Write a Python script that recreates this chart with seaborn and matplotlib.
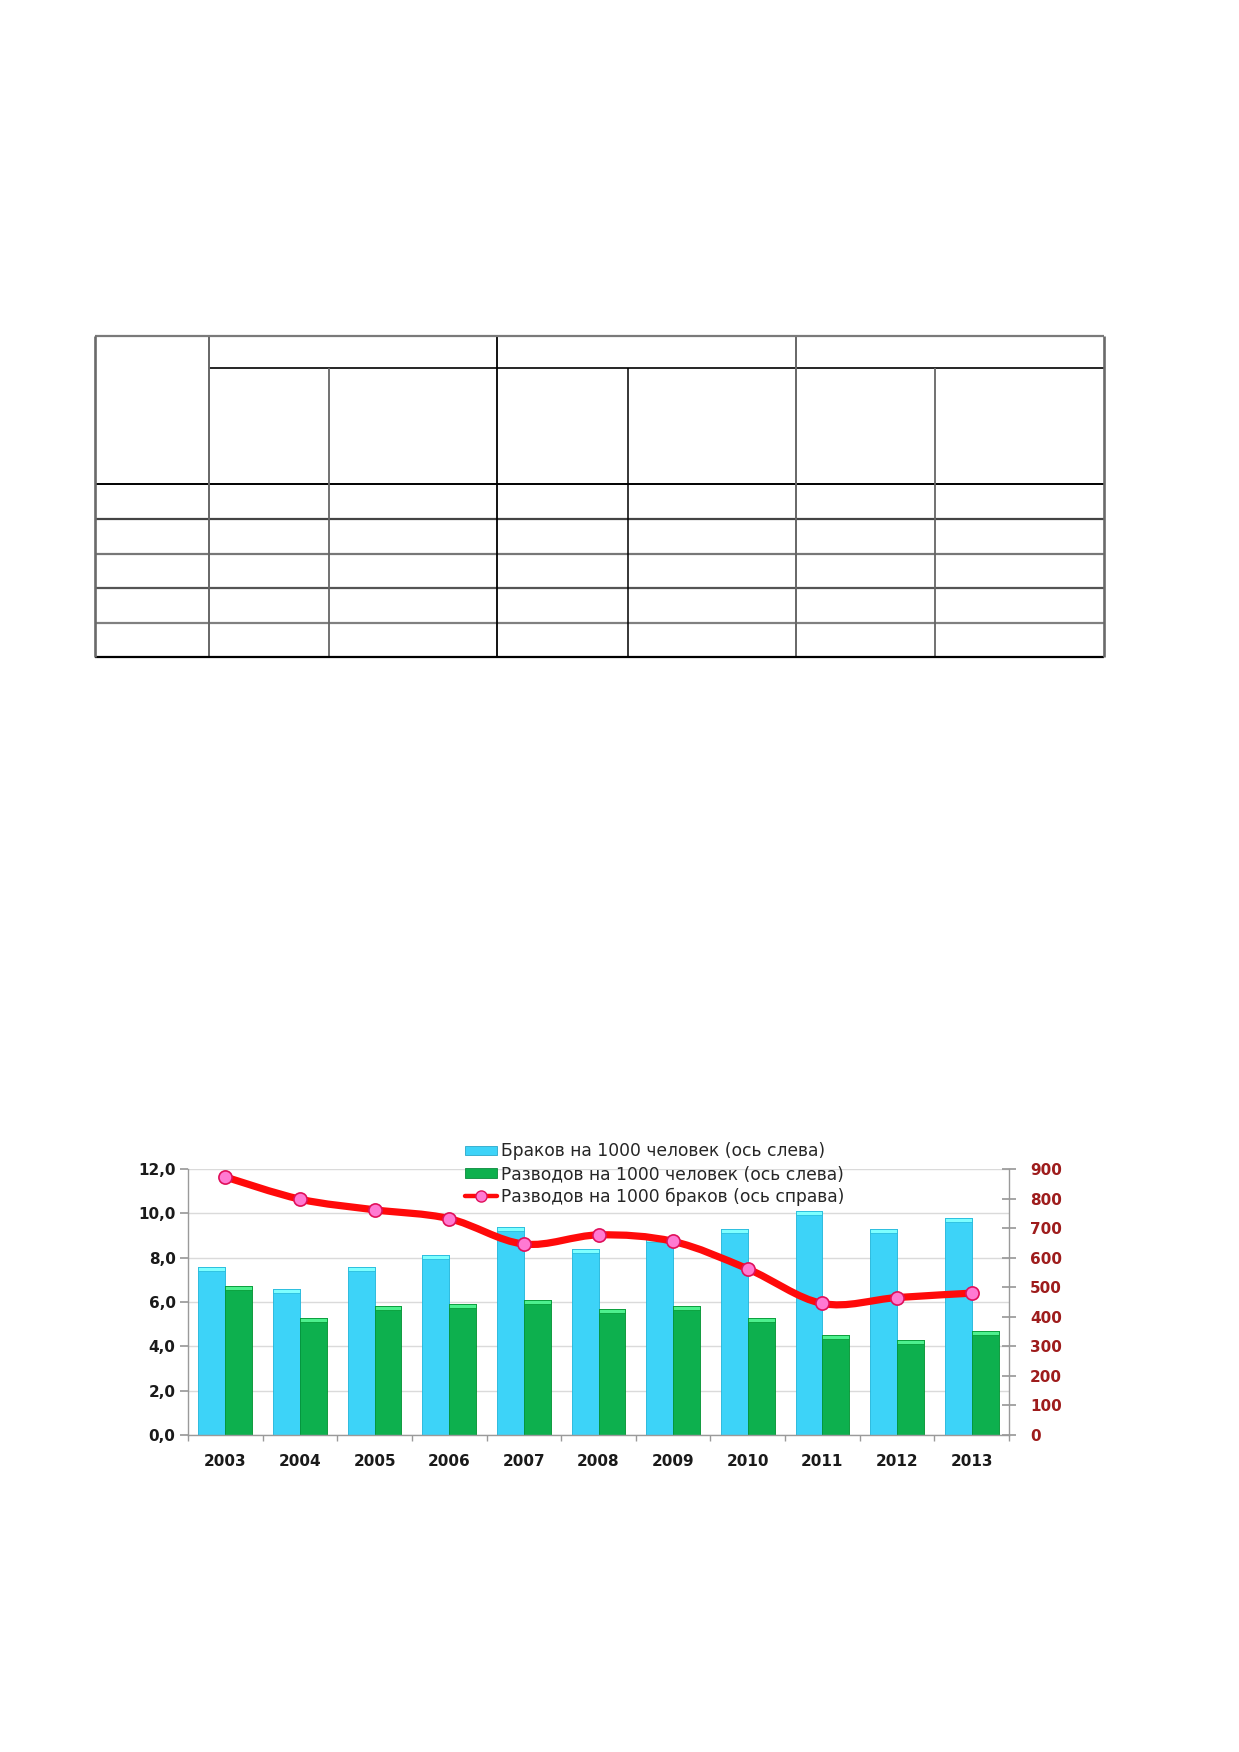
import matplotlib
matplotlib.use("Agg")
import matplotlib.pyplot as plt
import seaborn as sns
import pandas as pd
import numpy as np
from matplotlib.path import Path
from matplotlib.patches import PathPatch, Rectangle
from matplotlib.lines import Line2D

# данные
years = ["2003", "2004", "2005", "2006", "2007", "2008", "2009", "2010", "2011", "2012", "2013"]
marriages_per_1000 = [7.6, 6.6, 7.6, 8.1, 9.4, 8.4, 8.9, 9.3, 10.1, 9.3, 9.8]
divorces_per_1000 = [6.7, 5.3, 5.8, 5.9, 6.1, 5.7, 5.8, 5.3, 4.5, 4.3, 4.7]
divorces_per_1000_marriages = [873, 798, 762, 732, 646, 677, 655, 562, 445, 465, 480]

series_names = ["Браков на 1000 человек (ось слева)",
                "Разводов на 1000 человек (ось слева)",
                "Разводов на 1000 браков (ось справа)"]
left_ticks = [0, 2, 4, 6, 8, 10, 12]
right_ticks = [0, 100, 200, 300, 400, 500, 600, 700, 800, 900]

BLUE = "#3DD3F8"
GREEN = "#0DB04E"
RED = "#FF0A0A"
PINK = "#FF7AD2"
DARKRED = "#9E1C1C"
AXGRAY = "#9A9A9A"

sns.set_theme(style="white")
plt.rcParams["font.family"] = ["DejaVu Sans"]

W, H = 1239, 1752
fig = plt.figure(figsize=(W / 100, H / 100), dpi=100)
fig.patch.set_facecolor("white")

# ---- пустая таблица вверху страницы ----
col_edges = [95, 209, 329, 497, 628, 796, 935, 1104]
row_edges = [336, 368, 484, 519, 554, 588, 623, 657]
tab = fig.add_axes([0, 0, 1, 1])
tab.set_xlim(0, W)
tab.set_ylim(H, 0)
tab.axis("off")
x0, x1 = col_edges[0], col_edges[-1]
y0, y1 = row_edges[0], row_edges[-1]
# строки
tab.hlines(row_edges[1], col_edges[1], x1, color="black", lw=1.2)
tab.hlines(row_edges[2], x0, x1, color="black", lw=1.4)
tab.hlines(row_edges[3:-1], x0, x1, color=["#444444", "#777777", "#555555", "#808080"], lw=1.6)
# столбцы
tab.vlines([col_edges[1], col_edges[5]], y0, y1, color="#666666", lw=1.4)
tab.vlines([col_edges[3]], y0, y1, color="black", lw=1.3)
tab.vlines([col_edges[2], col_edges[6]], row_edges[1], y1, color="#666666", lw=1.3)
tab.vlines([col_edges[4]], row_edges[1], y1, color="black", lw=1.1)
# внешняя рамка
tab.hlines(y0, x0, x1, color="#7A7A7A", lw=1.6)
tab.hlines(y1, x0, x1, color="black", lw=1.6)
tab.vlines([x0, x1], y0, y1, color="#6A6A6A", lw=1.9)

# ---- диаграмма ----
ax = fig.add_axes([188 / W, 1 - 1435 / H, 821 / W, 266 / H])
df = pd.DataFrame({
    "year": years * 2,
    "value": marriages_per_1000 + divorces_per_1000,
    "series": [series_names[0]] * len(years) + [series_names[1]] * len(years),
})
sns.barplot(data=df, x="year", y="value", hue="series", palette=[BLUE, GREEN],
            width=0.72, gap=0, ax=ax, legend=False, edgecolor="none", saturation=1)

# объёмный верх столбцов
for p in list(ax.patches):
    fc = p.get_facecolor()
    light = tuple(min(1, c + 0.25) for c in fc[:3])
    dark = tuple(max(0, c - 0.12) for c in fc[:3])
    p.set_edgecolor(dark)
    p.set_linewidth(0.6)
    x, w, h = p.get_x(), p.get_width(), p.get_height()
    if h > 0:
        ax.add_patch(Rectangle((x, h - 0.18), w, 0.18, facecolor=light, edgecolor=dark,
                               lw=0.5, zorder=p.get_zorder() + 0.1))

ax.set_xlim(-0.5, len(years) - 0.5)
ax.set_ylim(0, 12)
ax.set_yticks(left_ticks)
ax.set_yticklabels([f"{v:.1f}".replace(".", ",") for v in left_ticks])
ax.set_xlabel("")
ax.set_ylabel("")
ax.yaxis.grid(True, color="#DADADA", lw=1.0)
ax.set_axisbelow(True)
for s in ["top", "right"]:
    ax.spines[s].set_visible(False)
for s in ["left", "bottom"]:
    ax.spines[s].set_color(AXGRAY)
    ax.spines[s].set_linewidth(1.0)
ax.set_xticks(np.arange(-0.5, len(years)), minor=True)
ax.tick_params(axis="x", which="major", length=0, pad=14, labelsize=11, labelcolor="#1A1A1A")
ax.tick_params(axis="x", which="minor", length=4, color=AXGRAY, direction="out", bottom=True)
ax.tick_params(axis="y", which="major", length=6, color=AXGRAY, direction="out", left=True,
               pad=3, labelsize=11, labelcolor="#1A1A1A")
for t in ax.get_xticklabels() + ax.get_yticklabels():
    t.set_fontweight("bold")

ax2 = ax.twinx()
ax2.set_ylim(0, 900)
ax2.set_yticks(right_ticks)
ax2.set_yticklabels([str(v) for v in right_ticks])
ax2.grid(False)
for s in ["top", "left", "bottom"]:
    ax2.spines[s].set_visible(False)
ax2.spines["right"].set_color(AXGRAY)
ax2.spines["right"].set_linewidth(1.0)
ax2.tick_params(axis="y", length=10, direction="inout", color=AXGRAY, right=True,
                pad=10, labelsize=11, labelcolor=DARKRED)
for t in ax2.get_yticklabels():
    t.set_fontweight("bold")

# сглаженная линия (кривые Безье через точки данных)
xs = np.arange(len(years), dtype=float)
ys = np.array(divorces_per_1000_marriages, dtype=float)
verts = [(xs[0], ys[0])]
codes = [Path.MOVETO]
n = len(xs)
for i in range(n - 1):
    xp, yp = (xs[i - 1], ys[i - 1]) if i > 0 else (xs[i], ys[i])
    xn, yn = (xs[i + 2], ys[i + 2]) if i + 2 < n else (xs[i + 1], ys[i + 1])
    c1 = (xs[i] + (xs[i + 1] - xp) / 6, ys[i] + (ys[i + 1] - yp) / 6)
    c2 = (xs[i + 1] - (xn - xs[i]) / 6, ys[i + 1] - (yn - ys[i]) / 6)
    verts += [c1, c2, (xs[i + 1], ys[i + 1])]
    codes += [Path.CURVE4] * 3
ax2.add_patch(PathPatch(Path(verts, codes), fill=False, edgecolor=RED, lw=5.2,
                        capstyle="round", joinstyle="round", zorder=3))
ax2.plot(xs, ys, linestyle="none", marker="o", markersize=9.5, markerfacecolor=PINK,
         markeredgecolor="#E0105A", markeredgewidth=1.2, zorder=4)

# легенда
handles = [
    Rectangle((0, 0), 1, 1, facecolor=BLUE, edgecolor="#2BA7C8", lw=0.6),
    Rectangle((0, 0), 1, 1, facecolor=GREEN, edgecolor="#0A8A3C", lw=0.6),
    Line2D([], [], color=RED, lw=3.2, marker="o", markersize=8, markerfacecolor=PINK,
           markeredgecolor="#E0105A"),
]
fig.legend(handles, series_names, loc="upper left", bbox_to_anchor=(465 / W, 1 - 1142.5 / H),
           frameon=False, fontsize=12.3, borderpad=0, handlelength=1.9, handleheight=0.5,
           handletextpad=0.2, labelspacing=0.26, borderaxespad=0)

fig.savefig("out.png", dpi=100, facecolor="white")
